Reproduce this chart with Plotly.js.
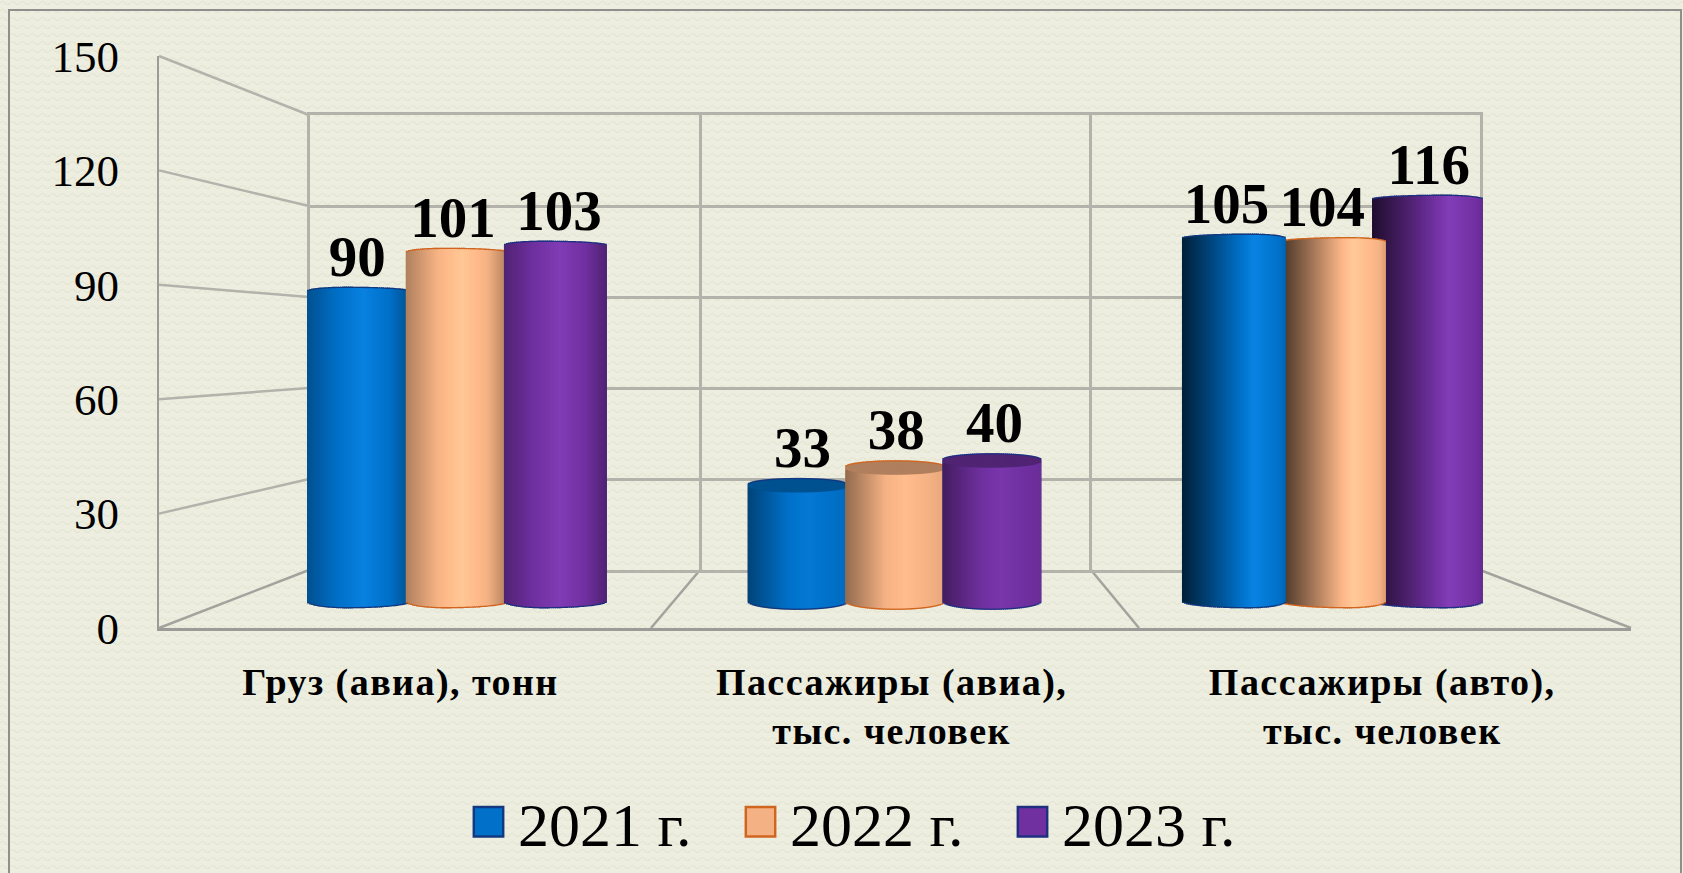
<!DOCTYPE html>
<html><head><meta charset="utf-8">
<script src="https://cdn.plot.ly/plotly-3.0.1.min.js"></script>
<style>
html,body{margin:0;padding:0;width:1683px;height:873px;overflow:hidden;background-color:#edeee0;
background-image:url("data:image/svg+xml,%3Csvg xmlns='http://www.w3.org/2000/svg' width='10' height='8'%3E%3Cpath d='M0 3Q2.5 0 5 3T10 3' fill='none' stroke='%23e3e5d2' stroke-width='1.2'/%3E%3C/svg%3E");}
#chart{width:1683px;height:873px}
.x2tick text{letter-spacing:1.45px}
</style></head><body><div id="chart"></div>
<script>
// ---- data ----
const categories = ['Груз (авиа), тонн', 'Пассажиры (авиа),<br>тыс. человек', 'Пассажиры (авто),<br>тыс. человек'];
const seriesNames = ['2021 г.', '2022 г.', '2023 г.'];
const values2021 = [90, 33, 105];
const values2022 = [101, 38, 104];
const values2023 = [103, 40, 116];
const yTicks = [0, 30, 60, 90, 120, 150];

// ---- style and layout constants ----
const W = 1683, H = 873;
const seriesValues = [values2021, values2022, values2023];
const baseColors = [[0,112,200],[244,177,131],[112,48,160]];
const edgeColors = ['#12397f', '#d0651f', '#1f2f80'];
const FRONT = {l:159, r:1631, t:56, b:628};
const WALL  = {l:310, r:1480, t:115, b:570};
const PX_PER_UNIT = 3.54, ZERO_PX = 610.6, FLOOR_PX = 600.5, SPACING = 438, G1_PX = 456;
const STRIPS = 50;
// per group: slot offsets, widths (in group spacings), perspective lift, cap depth, base depth, highlight
const slotOffset = [[-.2226,.002,.226],[-.22,.002,.2226],[-.225,.001,.217]];
const slotWidth  = [[.235,.233,.233],[.228,.226,.224],[.235,.24,.251]];
const lift = [0, 2.4, 0];
const capPx = [4, 6, 4];
const basePx = [6.5, 8, 6.5];
const skew = [.38, .5, .65];
const shade = [
  [[0,.72],[.3,1],[.55,1.16],[.8,1],[1,.72]],
  [[0,.6],[.4,1],[.6,1.08],[1,.95]],
  [[0,.28],[.3,.65],[.7,1.18],[.95,1],[1,.9]]
];
const drawOrder = [[0,1,2],[0,1,2],[2,1,0]];
const labelNudge = [[-.003,-.009,.009],[.011,.003,.007],[-.016,-.023,.004]];
const labelGap = 7.5;

function factorAt(g,t){const p=shade[g];for(let i=1;i<p.length;i++){if(t<=p[i][0]){const a=p[i-1],b=p[i];return a[1]+(b[1]-a[1])*(t-a[0])/(b[0]-a[0]);}}return p[p.length-1][1];}
function col(c,f){return 'rgb('+c.map(v=>Math.min(255,Math.round(f>1?v*(1+(f-1)*.5)+(f-1)*50:v*f))).join(',')+')';}
function arc(g,t){const p=skew[g];const u=t<p?(p-t)/p:(t-p)/(1-p);return Math.sqrt(Math.max(0,1-u*u));}

const traces = [];
// back wall grid holder (xy), front axes holder (x2y2)
traces.push({type:'scatter',x:[0],y:[0],mode:'none',xaxis:'x',yaxis:'y',showlegend:false,hoverinfo:'skip'});
traces.push({type:'scatter',x:[1],y:[0],mode:'none',xaxis:'x2',yaxis:'y2',showlegend:false,hoverinfo:'skip'});

// cylinders: vertical strips, each a bar whose top and base follow the value
for(let g=0;g<3;g++){
  drawOrder[g].forEach(s=>{
    const v = seriesValues[s][g], c = baseColors[s], w = slotWidth[g][s];
    const left = g+1+slotOffset[g][s]-w/2, dx = w/STRIPS;
    const xs=[],ys=[],bases=[],cols=[];
    const top0 = v+lift[g], floor = (ZERO_PX-FLOOR_PX)/PX_PER_UNIT;
    const capU = capPx[g]/PX_PER_UNIT, baseU = basePx[g]/PX_PER_UNIT, edgeU=1.4/PX_PER_UNIT;
    const add=(t,b,tp,color)=>{xs.push(left+t*w);bases.push(b);ys.push(tp-b);cols.push(color);};
    for(let i=0;i<STRIPS;i++){const t=i/STRIPS,tc=(i+.5)/STRIPS,a=arc(g,tc);
      add(t,floor-baseU*a-edgeU,top0+capU*a+edgeU,edgeColors[s]);}
    if(g===1){
      for(let i=0;i<STRIPS;i++){const t=i/STRIPS,tc=(i+.5)/STRIPS,a=arc(g,tc);
        add(t,top0-capU*a-edgeU,top0+capU*a,col(c,.72));}
      for(let i=0;i<STRIPS;i++){const t=i/STRIPS,tc=(i+.5)/STRIPS,a=arc(g,tc);
        add(t,floor-baseU*a,top0-capU*a-edgeU*.9,col(c,factorAt(g,tc)));}
    } else {
      for(let i=0;i<STRIPS;i++){const t=i/STRIPS,tc=(i+.5)/STRIPS,a=arc(g,tc);
        add(t,floor-baseU*a,top0+capU*a,col(c,factorAt(g,tc)));}
    }
    traces.push({type:'bar',x:xs,y:ys,base:bases,width:dx*1.4,offset:0,
      marker:{color:cols,line:{width:0}},xaxis:'x3',yaxis:'y3',showlegend:false,hoverinfo:'skip'});
  });
}
// value labels
seriesValues.forEach((vals,s)=>{
  traces.push({type:'scatter',mode:'text',xaxis:'x3',yaxis:'y3',showlegend:false,hoverinfo:'skip',
    x:vals.map((v,g)=>g+1+slotOffset[g][s]+labelNudge[g][s]),
    y:vals.map((v,g)=>v+lift[g]+capPx[g]/PX_PER_UNIT+labelGap),
    text:vals.map(String),textposition:'middle center',cliponaxis:false,
    textfont:{family:'Liberation Serif',size:57,color:'#000',weight:'bold'}});
});
// legend entries
seriesNames.forEach((n,s)=>{
  traces.push({type:'bar',name:n,x:[1],y:[null],xaxis:'x3',yaxis:'y3',hoverinfo:'skip',
    marker:{color:col(baseColors[s],1),line:{color:edgeColors[s],width:1}}});
});

const px=x=>x/W, py=y=>1-y/H;
const line=(x0,y0,x1,y1,color,width)=>({type:'line',xref:'paper',yref:'paper',layer:'below',x0:px(x0),y0:py(y0),x1:px(x1),y1:py(y1),line:{color,width}});
const frontY=v=>FRONT.b-(FRONT.b-FRONT.t)*v/150, wallY=v=>WALL.b-(WALL.b-WALL.t)*v/150;
const shapes=[
  {type:'path',xref:'paper',yref:'paper',layer:'below',path:`M ${px(9)} 0 L ${px(9)} ${py(10)} L ${px(1681)} ${py(10)} L ${px(1681)} 0`,line:{color:'#8f8f8b',width:2}},
  ...yTicks.map(v=>line(FRONT.l,frontY(v),WALL.l-1,wallY(v),v===0?'#a3a39e':'#b3b3ac',2.5)),
  line(651,628,700,570,'#a3a39e',2.5),
  line(1139,628,1091,570,'#a3a39e',2.5),
  line(WALL.r,WALL.b,FRONT.r,FRONT.b,'#a3a39e',2.5)
];

const hidden={visible:false,fixedrange:true};
const wallLine={showline:true,mirror:true,linecolor:'#b3b3ac',linewidth:2.5};
const layout={
  width:W,height:H,margin:{l:0,r:0,t:0,b:0},paper_bgcolor:'rgba(0,0,0,0)',plot_bgcolor:'rgba(0,0,0,0)',
  barmode:'overlay',hovermode:false,shapes,
  font:{family:'Liberation Serif',color:'#000'},
  xaxis:{...wallLine,domain:[px(WALL.l),px(WALL.r)],range:[0,3],tick0:0,dtick:1,showgrid:true,gridcolor:'#b3b3ac',gridwidth:2.5,zeroline:false,showticklabels:false,ticks:'',anchor:'y',fixedrange:true},
  yaxis:{...wallLine,domain:[py(WALL.b),py(WALL.t)],range:[0,150],dtick:30,showgrid:true,gridcolor:'#b3b3ac',gridwidth:2.5,zeroline:false,showticklabels:false,ticks:'',anchor:'x',fixedrange:true},
  xaxis2:{domain:[px(FRONT.l),px(FRONT.r)],range:[.5,3.5],tickmode:'array',tickvals:[.992,1.993,2.993],ticktext:categories,
    tickfont:{family:'Liberation Serif',size:38,color:'#000',weight:'bold'},ticks:'',ticklabelstandoff:18,showgrid:false,zeroline:false,
    showline:true,linecolor:'#9b9b97',linewidth:3,anchor:'y2',fixedrange:true},
  yaxis2:{domain:[py(FRONT.b),py(FRONT.t)],range:[0,150],tickmode:'array',tickvals:yTicks,
    tickfont:{family:'Liberation Serif',size:45,color:'#000'},ticks:'',ticklabelstandoff:29,showgrid:false,zeroline:false,
    showline:true,linecolor:'#9b9b97',linewidth:2,anchor:'x2',fixedrange:true},
  xaxis3:{...hidden,domain:[0,1],range:[1-G1_PX/SPACING,1+(W-G1_PX)/SPACING],anchor:'y3'},
  yaxis3:{...hidden,domain:[0,1],range:[(ZERO_PX-H)/PX_PER_UNIT,ZERO_PX/PX_PER_UNIT],anchor:'x3'},
  legend:{orientation:'h',x:px(459),xanchor:'left',y:py(822),yanchor:'middle',bgcolor:'rgba(0,0,0,0)',
    font:{family:'Liberation Serif',size:62,color:'#000'},itemwidth:49,entrywidth:208,entrywidthmode:'pixels',traceorder:'normal',itemclick:false,itemdoubleclick:false}
};
Plotly.newPlot('chart',traces,layout,{displayModeBar:false,responsive:false}).then(()=>{
  document.querySelectorAll('.legend .legendpoints path').forEach(p=>{
    const t=p.getAttribute('transform')||'';
    p.setAttribute('transform',t+' scale(2.45)');
    p.style.strokeWidth='1px';
  });
});
</script></body></html>
